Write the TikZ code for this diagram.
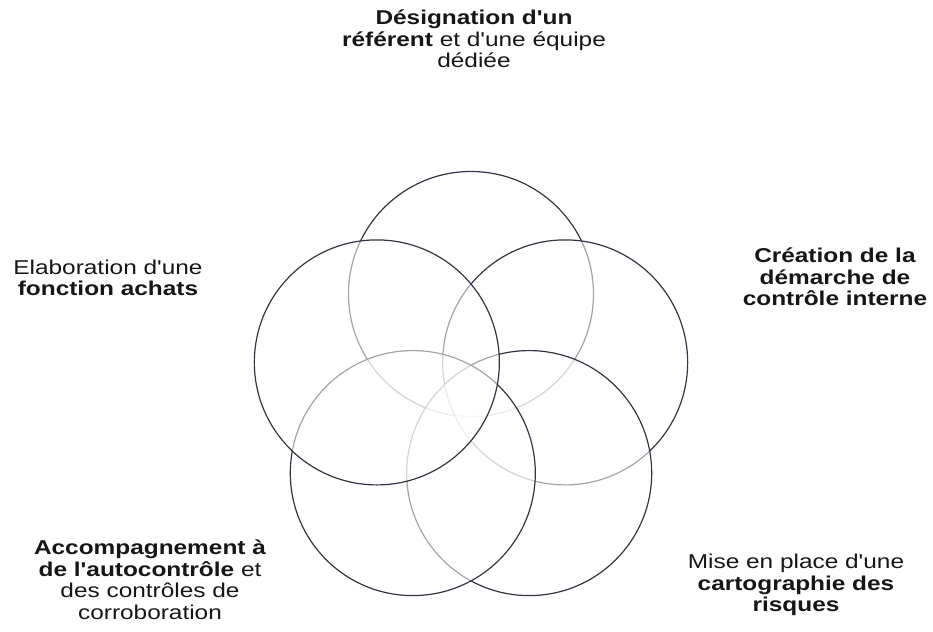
\documentclass[tikz,border=0pt]{standalone}
\usepackage{fontspec}
\usepackage{tikz}
\usetikzlibrary{positioning}
\newfontfamily\lblfont{Liberation Sans}[FakeStretch=1.22]
\definecolor{ringcol}{RGB}{52,52,66}
\definecolor{txtcol}{RGB}{22,22,22}
\newcommand{\kw}[1]{\textbf{#1}}

\begin{document}
\begin{tikzpicture}[x=1pt,y=1pt,
    petal/.style={circle, draw=ringcol, line width=1.2pt, fill=white, fill opacity=0.55,
      minimum size=245pt, inner sep=0pt},
    lbl/.style={font=\lblfont\fontsize{20}{21.5}\selectfont, text=txtcol, align=center, inner sep=0pt}]
    \useasboundingbox (-471,-238) rectangle (462,393);
    % circles, lowest first
    \node[petal] (top) at (90:99) {};
    \node[petal] (right) at (18:99) {};
    \node[petal] (botright) at (-54:99) {};
    \node[petal] (botleft) at (-126:99) {};
    \node[petal] (left) at (162:99) {};
    % labels
    \node[lbl] (ltop) at (3,354) {\kw{Désignation d'un}\\ \kw{référent} et d'une équipe\\ dédiée};
    \node[lbl] (lleft) at (-363,115) {Elaboration d'une\\ \kw{fonction achats}};
    \node[lbl] (lright) at (364,116) {\kw{Création de la}\\ \kw{démarche de}\\ \kw{contrôle interne}};
    \node[lbl] (lbotleft) at (-321,-187) {\kw{Accompagnement à}\\ \kw{de l'autocontrôle} et\\ des contrôles de\\ corroboration};
    \node[lbl] (lbotright) at (325,-192) {Mise en place d'une\\ \kw{cartographie des}\\ \kw{risques}};
  \end{tikzpicture}
\end{document}
